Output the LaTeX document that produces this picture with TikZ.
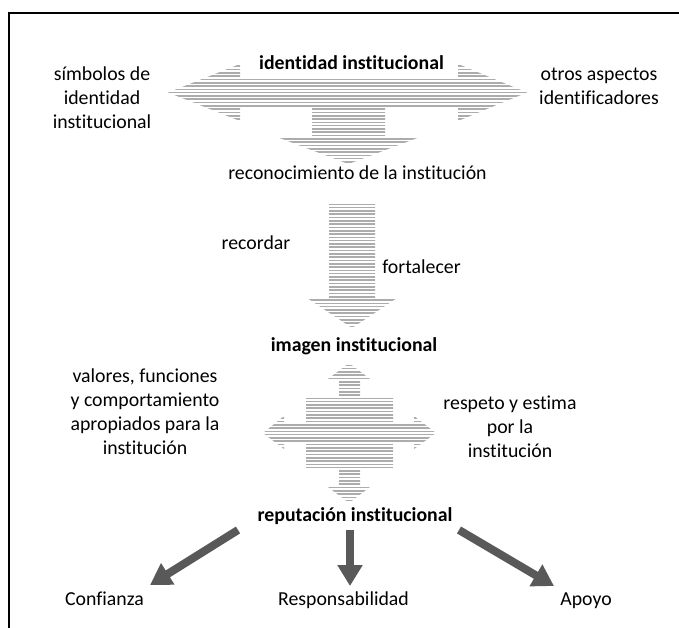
\documentclass[tikz,border=0pt]{standalone}
\usepackage{fontspec}
\setmainfont{Carlito}[Ligatures={NoCommon}]
\usetikzlibrary{arrows.meta}
\definecolor{hatchgray}{RGB}{172,172,172}
\definecolor{darkarrow}{RGB}{89,89,89}
\tikzset{
  lbl/.style={font=\fontsize{19.8bp}{24bp}\selectfont, inner sep=0pt, align=center},
  blbl/.style={lbl, font=\fontsize{19.8bp}{24bp}\selectfont\bfseries},
  hatchline/.style={draw=hatchgray, line width=1.6bp},
  darr/.style={draw=darkarrow, line width=8bp, -{Triangle[width=24bp,length=21bp]}},
  frameline/.style={draw=black, line width=2bp},
}
\newcommand\hatchshape[3]{%
  \begin{scope}
    \clip #1;
    \pgfmathsetmacro\hstart{#2}
    \pgfmathsetmacro\hnext{#2+3.3}
    \foreach \yy in {\hstart,\hnext,...,#3} {\draw[hatchline] (0,\yy) -- (679,\yy);}
  \end{scope}}
\begin{document}
\begin{tikzpicture}[x=1bp,y=-1bp]
\useasboundingbox (0,0) rectangle (679,628);
\clip (0,0) rectangle (679,628);
% frame
\draw[frameline] (9,700) -- (9,13) -- (700,13);

% top double arrow with down stub
\hatchshape{(168,92.5) -- (240,64) -- (240,78) -- (458,78) -- (458,64) -- (527,92.5) -- (458,121) -- (458,107) -- (385,107) -- (385,137) -- (420,137) -- (348.5,164) -- (277,137) -- (312,137) -- (312,107) -- (240,107) -- (240,121) -- cycle}{63}{166}

% vertical arrow
\hatchshape{(329,202) -- (375,202) -- (375,298) -- (397,298) -- (352,328) -- (307,298) -- (329,298) -- cycle}{201}{330}

% four-way arrow
\hatchshape{(349,363) -- (370,379) -- (360,379) -- (360,398) -- (393,398) -- (393,424) -- (414,424) -- (414,416) -- (436,433) -- (414,449) -- (414,443) -- (393,443) -- (393,468) -- (360,468) -- (360,487) -- (370,487) -- (349,503) -- (328,487) -- (339,487) -- (339,468) -- (306,468) -- (306,443) -- (284,443) -- (284,449) -- (263,433) -- (284,416) -- (284,424) -- (306,424) -- (306,398) -- (339,398) -- (339,379) -- (328,379) -- cycle}{362}{505}

% texts
\node[blbl, anchor=base] (ident) at (351.5,70) {identidad institucional};
\node[lbl] (simb) at (102,98) {símbolos de\\identidad\\institucional};
\node[lbl] (otros) at (599,86) {otros aspectos\\identificadores};
\node[lbl, anchor=base] (recon) at (357.5,180) {reconocimiento de la institución};
\node[lbl, anchor=base] (recordar) at (256,249) {recordar};
\node[lbl, anchor=base] (fortal) at (421.5,273) {fortalecer};
\node[blbl, anchor=base] (imagen) at (354,351) {imagen institucional};
\node[lbl] (valores) at (145,412) {valores, funciones\\y comportamiento\\apropiados para la\\institución};
\node[lbl] (respeto) at (510,427) {respeto y estima\\por la\\institución};
\node[blbl, anchor=base] (reput) at (355,521) {reputación institucional};
\node[lbl, anchor=base] (conf) at (104.5,605) {Confianza};
\node[lbl, anchor=base] (resp) at (343.5,605) {Responsabilidad};
\node[lbl, anchor=base] (apoyo) at (586,605) {Apoyo};

% dark arrows
\coordinate (sL) at (238,530);
\coordinate (tL) at (150,585);
\coordinate (sM) at (350,530);
\coordinate (tM) at (350,586);
\coordinate (sR) at (459,530);
\coordinate (tR) at (554,586);
\draw[darr] (sL) -- (tL);
\draw[darr] (sM) -- (tM);
\draw[darr] (sR) -- (tR);
\end{tikzpicture}
\end{document}
